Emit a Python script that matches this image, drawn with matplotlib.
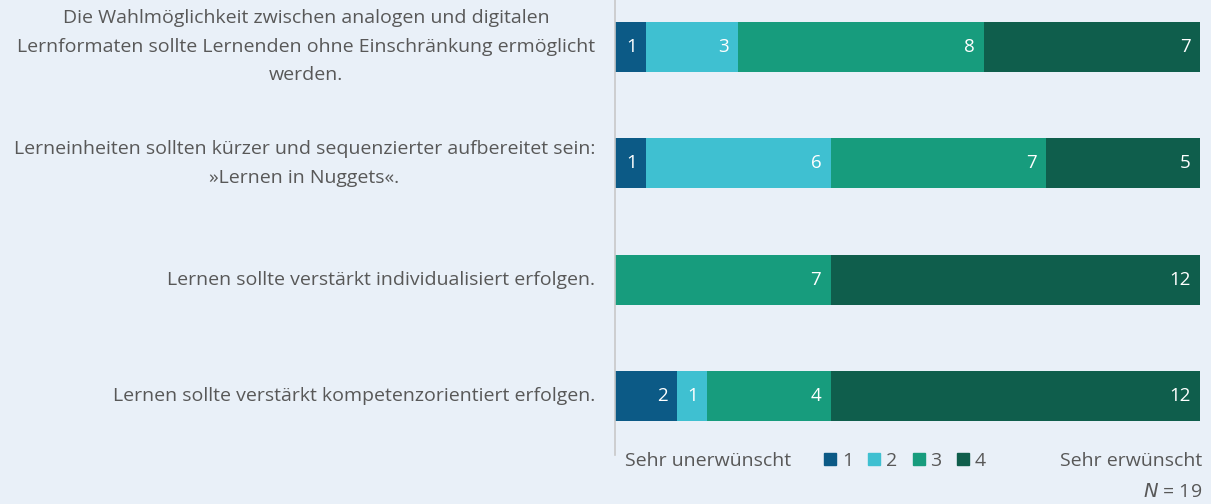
import matplotlib.pyplot as plt
from matplotlib.lines import Line2D
import numpy as np

# Data
statements = [
    'Die Wahlmöglichkeit zwischen analogen und digitalen\nLernformaten sollte Lernenden ohne Einschränkung ermöglicht\nwerden.',
    'Lerneinheiten sollten kürzer und sequenzierter aufbereitet sein:\n»Lernen in Nuggets«.',
    'Lernen sollte verstärkt individualisiert erfolgen.',
    'Lernen sollte verstärkt kompetenzorientiert erfolgen.',
]
levels = ['1', '2', '3', '4']
counts_1 = [1, 1, 0, 2]
counts_2 = [3, 6, 0, 1]
counts_3 = [8, 7, 7, 4]
counts_4 = [7, 5, 12, 12]
n_total = 19

colors = ['#0c5a86', '#3fc0d1', '#179c7d', '#0f5e4c']
bg = '#e9f0f8'
text_col = '#585858'

plt.rcParams['font.family'] = ['Open Sans', 'DejaVu Sans']

fig = plt.figure(figsize=(12.11, 5.04), dpi=100, facecolor=bg)
ax = fig.add_axes([615 / 1211, 1 - 455 / 504, 585 / 1211, 455 / 504])
ax.set_facecolor(bg)

y = np.arange(len(statements))
left = np.zeros(len(statements))
for vals, col in zip([counts_1, counts_2, counts_3, counts_4], colors):
    vals = np.array(vals, dtype=float)
    ax.barh(y, vals, left=left, height=0.43, color=col, edgecolor='none')
    for yi, l, v in zip(y, left, vals):
        if v > 0:
            ax.text(l + v - 0.3, yi, f'{int(v)}', ha='right', va='center',
                    color='white', fontsize=13.5)
    left += vals

ax.set_xlim(0, n_total)
ax.set_ylim(3.508, -0.404)
ax.set_xticks([])
ax.set_yticks([])
for s in ['top', 'right', 'bottom']:
    ax.spines[s].set_visible(False)
ax.spines['left'].set_color('#c8c8c8')
ax.spines['left'].set_linewidth(1.2)

for yi, s in zip(y, statements):
    ax.text(-0.65, yi, s, ha='right', va='center', multialignment='center',
            color=text_col, fontsize=14, linespacing=1.75)

# legend row
fig.text(625 / 1211, 1 - 461 / 504, 'Sehr unerwünscht', ha='left', va='center',
         color=text_col, fontsize=14)
fig.text(1202 / 1211, 1 - 461 / 504, 'Sehr erwünscht', ha='right', va='center',
         color=text_col, fontsize=14)
fig.text(1202 / 1211, 1 - 492 / 504, r'$\it{N}$ = 19', ha='right', va='center',
         color=text_col, fontsize=14)

handles = [Line2D([], [], marker='s', linestyle='none', markersize=8,
                  color=c) for c in colors]
fig.legend(handles, levels, loc='center', ncol=4, frameon=False,
           bbox_to_anchor=(905 / 1211, 1 - 461 / 504), handlelength=0.6,
           handletextpad=0.3, columnspacing=0.8, fontsize=14,
           labelcolor=text_col)

fig.savefig('out.png', dpi=100, facecolor=bg)
